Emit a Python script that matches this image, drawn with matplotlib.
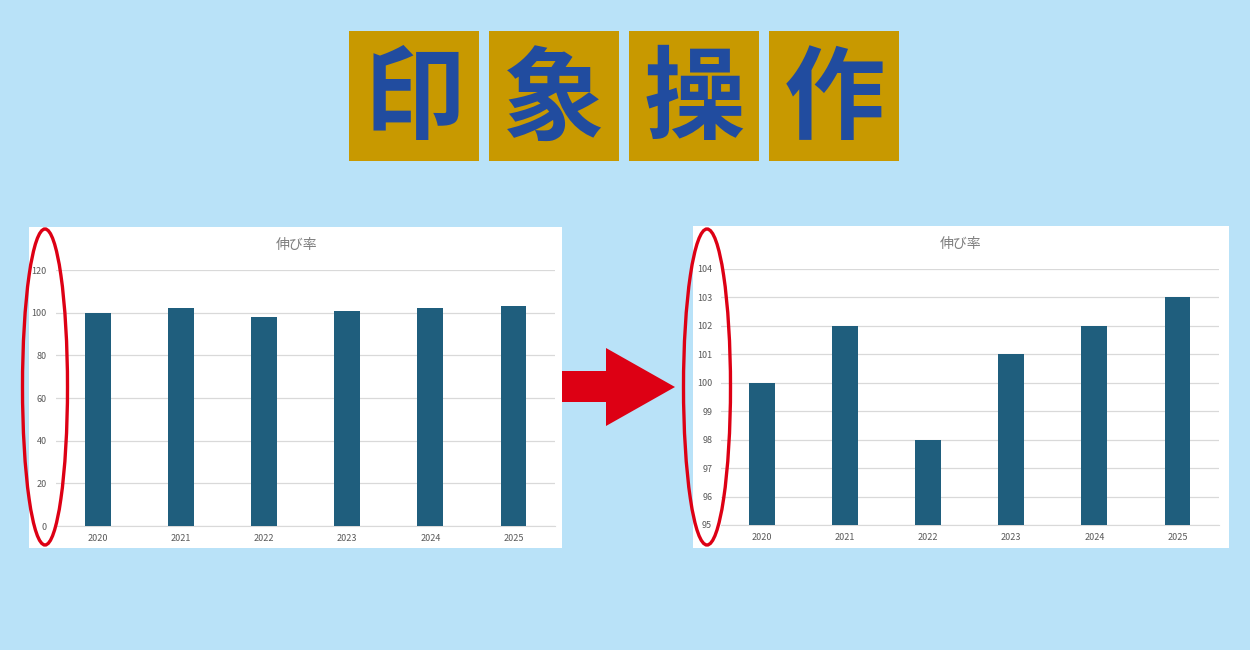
import matplotlib
matplotlib.use("Agg")
import matplotlib.pyplot as plt
from matplotlib.patches import Rectangle, Ellipse, Polygon
import numpy as np

plt.rcParams['font.family'] = ['Noto Sans CJK JP', 'DejaVu Sans']

# データ
years = ['2020', '2021', '2022', '2023', '2024', '2025']
growth = [100, 102, 98, 101, 102, 103]
title_chars = ['印', '象', '操', '作']
chart_title = '伸び率'

BG = '#B9E2F8'
BAR = '#1F5E7D'
GOLD = '#C89900'
KANJI = '#214C9F'
GRID = '#D9D9D9'
TXT = '#595959'
RED = '#DD0014'

W, H = 1250, 650
fig = plt.figure(figsize=(12.5, 6.5), dpi=100, facecolor=BG)


def px_axes(x0, y0, x1, y1, z):
    # ピクセル座標(左上原点)から axes を作る
    return fig.add_axes([x0 / W, 1 - y1 / H, (x1 - x0) / W, (y1 - y0) / H], zorder=z)


# 背景レイヤー
bg = px_axes(0, 0, W, H, 0)
bg.set_xlim(0, W)
bg.set_ylim(H, 0)
bg.axis('off')

# タイトルの箱
for i, ch in enumerate(title_chars):
    x0 = 349 + i * 140
    bg.add_patch(Rectangle((x0, 31), 130, 130, facecolor=GOLD, edgecolor='none'))
    bg.text(x0 + 65, 102, ch, ha='center', va='center', fontsize=73,
            fontweight='bold', color=KANJI)

# 白いパネル
bg.add_patch(Rectangle((29, 227), 533, 321, facecolor='white', edgecolor='none'))
bg.add_patch(Rectangle((693, 226), 536, 322, facecolor='white', edgecolor='none'))
bg.text(297, 245, chart_title, ha='center', va='center', fontsize=10, color='#7F7F7F')
bg.text(961, 244, chart_title, ha='center', va='center', fontsize=10, color='#7F7F7F')


def bar_chart(ax, ylim, yticks, pad):
    x = np.arange(len(years))
    ax.bar(x, growth, width=0.31, color=BAR, zorder=3)
    ax.set_xlim(-0.5, len(years) - 0.5)
    ax.set_ylim(*ylim)
    ax.set_yticks(yticks)
    ax.set_xticks(x)
    ax.set_xticklabels(years)
    ax.set_facecolor('none')
    ax.grid(axis='y', color=GRID, linewidth=0.9, zorder=0)
    for s in ['top', 'right', 'left']:
        ax.spines[s].set_visible(False)
    ax.spines['bottom'].set_color(GRID)
    ax.tick_params(axis='both', length=0, labelsize=6.5, labelcolor=TXT)
    ax.tick_params(axis='y', pad=pad)
    ax.tick_params(axis='x', pad=6)


ax1 = px_axes(56.5, 270, 555, 526, 1)
bar_chart(ax1, (0, 120), np.arange(0, 121, 20), 7)

ax2 = px_axes(720.5, 269, 1219, 525, 1)
bar_chart(ax2, (95, 104), np.arange(95, 105, 1), 6)

# 赤い楕円と矢印
ov = px_axes(0, 0, W, H, 2)
ov.set_xlim(0, W)
ov.set_ylim(H, 0)
ov.axis('off')
ov.patch.set_alpha(0)
ov.add_patch(Ellipse((45, 387), 45, 316, facecolor='none', edgecolor=RED, linewidth=2.4))
ov.add_patch(Ellipse((707, 387), 47, 316, facecolor='none', edgecolor=RED, linewidth=2.4))
ov.add_patch(Polygon([(562, 371), (606, 371), (606, 348), (675, 387),
                      (606, 426), (606, 402), (562, 402)],
                     closed=True, facecolor=RED, edgecolor='none'))

fig.savefig('out.png', dpi=100, facecolor=BG)
